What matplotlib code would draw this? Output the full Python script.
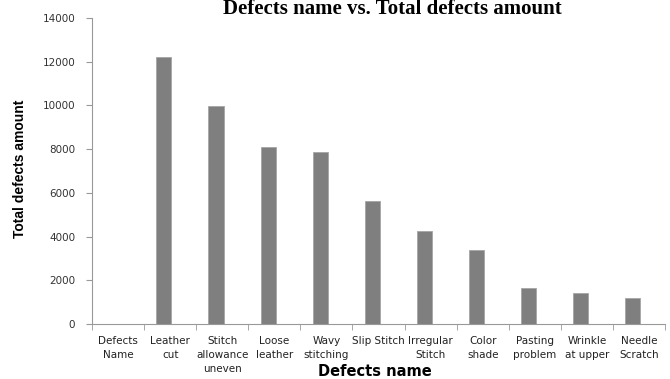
import matplotlib
matplotlib.use("Agg")
import matplotlib.pyplot as plt
import numpy as np

categories = ["Defects\nName", "Leather\ncut", "Stitch\nallowance\nuneven", "Loose\nleather",
              "Wavy\nstitching", "Slip Stitch", "Irregular\nStitch", "Color\nshade",
              "Pasting\nproblem", "Wrinkle\nat upper", "Needle\nScratch"]
values = [0, 12200, 9970, 8100, 7870, 5630, 4260, 3390, 1650, 1420, 1190]
yticks = [0, 2000, 4000, 6000, 8000, 10000, 12000, 14000]

fig = plt.figure(figsize=(6.7, 3.79), dpi=100)
ax = fig.add_axes([92/670, 1-324/379, 573/670, 306/379])

x = np.arange(len(categories))
ax.bar(x - 0.12, values, width=0.29, color="#7f7f7f", edgecolor="#a6a6a6", linewidth=0.6, zorder=2)

ax.set_xlim(-0.5, len(categories) - 0.5)
ax.set_ylim(0, 14000)
ax.set_yticks(yticks)
ax.set_yticklabels([str(v) for v in yticks], fontsize=7.5, color="#333333")
ax.set_xticks(x)
ax.set_xticklabels(categories, fontsize=7.5, color="#222222", linespacing=1.5, va="top")
ax.tick_params(axis="x", length=0, pad=9)
ax.set_xticks(np.arange(-0.5, len(categories), 1), minor=True)
ax.tick_params(axis="x", which="minor", length=4, color="#999999", direction="out")
ax.tick_params(axis="y", length=4, color="#999999", direction="out", pad=8)

for s in ["top", "right"]:
    ax.spines[s].set_visible(False)
for s in ["left", "bottom"]:
    ax.spines[s].set_color("#999999")
    ax.spines[s].set_linewidth(0.8)

fig.text(392/670, 1-14/379, "Defects name vs. Total defects amount", fontsize=15,
         fontweight="bold", family="Liberation Serif", ha="center", va="baseline")
fig.text(375/670, 1-371/379, "Defects name", fontsize=10.5, fontweight="bold",
         family="DejaVu Sans", ha="center", va="center")
fig.text(20/670, 1-169/379, "Total defects amount", fontsize=10, fontweight="bold",
         family="Liberation Sans", rotation=90, ha="center", va="center")

fig.savefig("out.png", dpi=100)
